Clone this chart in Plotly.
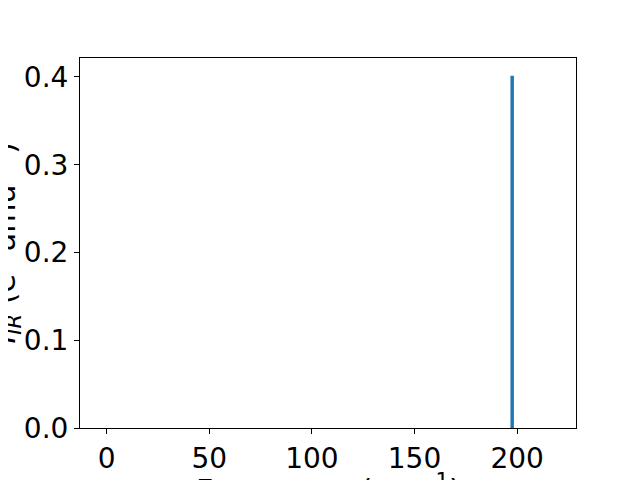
import plotly.graph_objects as go

freqs = [197.6]
intensities = [0.4015]
bar_widths = [1.7]

x_ticks = [0, 50, 100, 150, 200]
y_ticks = [0.0, 0.1, 0.2, 0.3, 0.4]
y_tick_labels = ["0.0", "0.1", "0.2", "0.3", "0.4"]

x_title = "Frequency (cm<sup>−1</sup>)"
y_title = "<i>I</i><sub><i>IR</i></sub> (e<sup>2</sup> amu<sup>−1</sup>)"

fig = go.Figure()
fig.add_trace(go.Bar(x=freqs, y=intensities, width=bar_widths,
                     marker=dict(color="#1f77b4", line=dict(width=0))))

font = dict(family="DejaVu Sans", size=28, color="black")
title_font = dict(family="DejaVu Sans", size=30, color="black")
fig.update_layout(
    width=640, height=480,
    margin=dict(l=72, r=72, t=50, b=60),
    paper_bgcolor="white", plot_bgcolor="white",
    showlegend=False,
    font=font,
)
fig.update_xaxes(
    range=[-13.0, 228.7], tickvals=x_ticks, ticks="outside", ticklen=5,
    tickwidth=1, tickcolor="black", showgrid=False, zeroline=False,
    showline=True, linecolor="black", linewidth=1, mirror=True,
    tickfont=font, automargin=False,
)
fig.update_yaxes(
    range=[0, 0.4216], tickvals=y_ticks, ticktext=y_tick_labels,
    ticks="outside", ticklen=5,
    tickwidth=1, tickcolor="black", showgrid=False, zeroline=False,
    showline=True, linecolor="black", linewidth=1, mirror=True,
    tickfont=font, automargin=False,
)
fig.add_annotation(text=x_title, xref="paper", yref="paper", x=0.5, y=0,
                   xanchor="center", yanchor="top", yshift=-39,
                   showarrow=False, font=title_font)
fig.add_annotation(text=y_title, xref="paper", yref="paper", x=0, y=0.5,
                   xanchor="right", yanchor="middle", xshift=-52, textangle=-90,
                   showarrow=False, font=title_font)
fig.write_html("out.html")
